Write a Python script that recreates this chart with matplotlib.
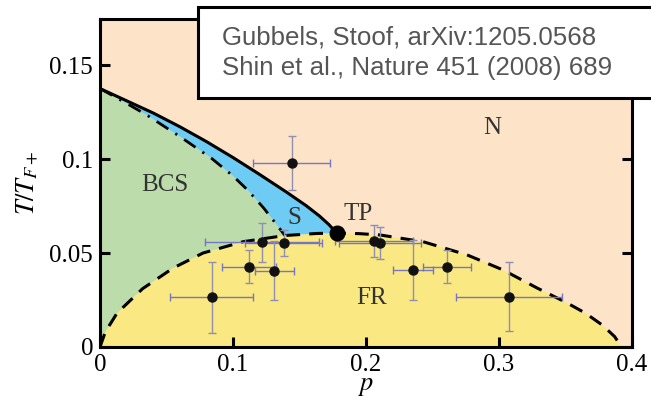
import matplotlib.pyplot as plt
from matplotlib.patches import Rectangle

# phase boundaries read as (p, T/T_F+) points
solid_p = [0.0, 0.020, 0.040, 0.060, 0.080, 0.100, 0.120, 0.140, 0.155, 0.165, 0.172, 0.178]
solid_t = [0.1375, 0.131, 0.1245, 0.1172, 0.1093, 0.1008, 0.0918, 0.0825, 0.0752, 0.0697, 0.0652, 0.0606]

dashdot_p = [0.0, 0.020, 0.035, 0.060, 0.084, 0.100, 0.111, 0.123, 0.134, 0.139]
dashdot_t = [0.1375, 0.1296, 0.1235, 0.112, 0.1003, 0.091, 0.0835, 0.074, 0.064, 0.0593]

fr_p = [0.0, 0.004, 0.0128, 0.032, 0.055, 0.0775, 0.1075, 0.139, 0.163, 0.178,
        0.195, 0.2105, 0.243, 0.276, 0.303, 0.3286, 0.351, 0.365, 0.378, 0.387, 0.392]
fr_t = [0.0, 0.008, 0.018, 0.031, 0.042, 0.050, 0.056, 0.0593, 0.0604, 0.0606,
        0.0603, 0.0596, 0.056, 0.049, 0.041, 0.0314, 0.0235, 0.018, 0.0115, 0.0055, 0.0]

tp = (0.178, 0.0606)

# experiment (Shin et al.)
exp_p = [0.084, 0.112, 0.122, 0.138, 0.131, 0.144, 0.206, 0.2105, 0.2356, 0.261, 0.3075]
exp_t = [0.0264, 0.0427, 0.0557, 0.0555, 0.0406, 0.098, 0.0565, 0.0555, 0.041, 0.0427, 0.0268]
exp_perr = [0.031, 0.020, 0.043, 0.029, 0.0145, 0.029, 0.029, 0.031, 0.015, 0.018, 0.040]
exp_terr = [0.0187, 0.0088, 0.0105, 0.007, 0.0157, 0.0145, 0.0085, 0.0085, 0.016, 0.0089, 0.0183]

c_n = '#fde4c8'
c_bcs = '#bcdcab'
c_s = '#6ecbf3'
c_fr = '#fae882'

plt.rcParams['font.family'] = ['Liberation Serif', 'DejaVu Serif']
plt.rcParams['mathtext.fontset'] = 'stix'

fig = plt.figure(figsize=(6.51, 4.01), dpi=100)
ax = fig.add_axes([0.1536, 0.1347, 0.8172, 0.8179])
ax.set_facecolor(c_n)

# fill the phases
i_dd = fr_p.index(0.139)
i_tp = fr_p.index(0.178)
ax.fill(fr_p + [0.0], fr_t + [0.0], color=c_fr, lw=0, zorder=1)
ax.fill(dashdot_p + fr_p[i_dd::-1], dashdot_t + fr_t[i_dd::-1], color=c_bcs, lw=0, zorder=1)
ax.fill(solid_p + fr_p[i_tp:i_dd - 1:-1] + dashdot_p[::-1],
        solid_t + fr_t[i_tp:i_dd - 1:-1] + dashdot_t[::-1], color=c_s, lw=0, zorder=1)

ax.plot(solid_p, solid_t, color='black', lw=2.2, zorder=3)
ax.plot(dashdot_p, dashdot_t, color='black', lw=2.0, zorder=3,
        linestyle=(0, (5, 3, 0.8, 3)))
ax.plot(fr_p, fr_t, color='black', lw=2.2, zorder=3, linestyle=(0, (4.5, 3)))

ax.errorbar(exp_p, exp_t, xerr=exp_perr, fmt='none', ecolor='#7676c2',
            elinewidth=1.0, capsize=3, capthick=1.0, zorder=4)
ax.errorbar(exp_p, exp_t, yerr=exp_terr, fmt='none', ecolor='#8f8fb0',
            elinewidth=1.0, capsize=3, capthick=1.0, zorder=4)
ax.plot(exp_p, exp_t, 'o', color='#111111', ms=6.5, zorder=5)
ax.plot(*tp, 'o', color='black', ms=10.5, zorder=6)

lbl = dict(fontsize=18, color='#333333', ha='center', va='center', zorder=7)
ax.text(0.049, 0.086, 'BCS', **lbl)
ax.text(0.146, 0.0686, 'S', **lbl)
ax.text(0.194, 0.0705, 'TP', **lbl)
ax.text(0.295, 0.1165, 'N', **lbl)
ax.text(0.2045, 0.026, 'FR', **lbl)

ax.set_xlim(0, 0.4)
ax.set_ylim(0, 0.1745)
ax.set_xticks([0, 0.1, 0.2, 0.3, 0.4])
ax.set_xticklabels(['0', '0.1', '0.2', '0.3', '0.4'])
ax.set_yticks([0, 0.05, 0.1, 0.15])
ax.set_yticklabels(['0', '0.05', '0.1', '0.15'])
ax.tick_params(direction='in', length=7, width=2.2, labelsize=18, pad=5,
               top=True, right=True)
for s in ax.spines.values():
    s.set_linewidth(2.2)
    s.set_zorder(8)

ax.set_xlabel('$p$', fontsize=19, labelpad=0)
ax.set_ylabel('$T/T_{F+}$', fontsize=19, labelpad=6)

# reference box
fig.patches.append(Rectangle((0.304, 0.7556), 0.72, 0.227, transform=fig.transFigure,
                             facecolor='white', edgecolor='black', lw=2.2, zorder=10))
fig.text(0.341, 0.888, 'Gubbels, Stoof, arXiv:1205.0568', fontsize=18.6,
         family=['Liberation Sans', 'DejaVu Sans'], color='#555555', va='baseline', zorder=11)
fig.text(0.341, 0.813, 'Shin et al., Nature 451 (2008) 689', fontsize=18.6,
         family=['Liberation Sans', 'DejaVu Sans'], color='#555555', va='baseline', zorder=11)

fig.savefig('out.png', dpi=100)
